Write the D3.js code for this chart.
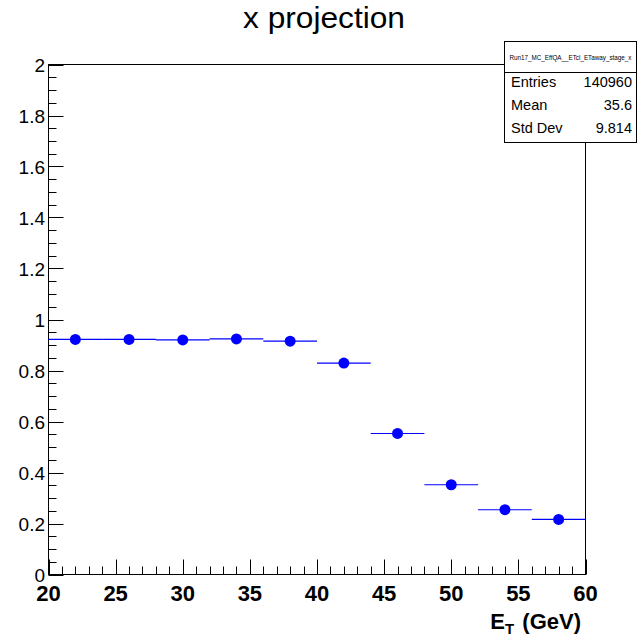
<!DOCTYPE html>
<html><head><meta charset="utf-8">
<script src="https://cdn.jsdelivr.net/npm/d3@7"></script>
<style>body{margin:0;background:#fff}svg{display:block}text{font-family:"Liberation Sans",Arial,Helvetica,sans-serif}</style>
</head><body>
<svg id="c" width="640" height="638"></svg>
<script>
const binCenters = [22, 26, 30, 34, 38, 42, 46, 50, 54, 58];
const binWidth = 4;
const efficiency = [0.922, 0.922, 0.920, 0.924, 0.915, 0.829, 0.553, 0.352, 0.254, 0.216];
const xTicks = [20, 25, 30, 35, 40, 45, 50, 55, 60];
const yTicks = [0, 0.2, 0.4, 0.6, 0.8, 1, 1.2, 1.4, 1.6, 1.8, 2];
const statsLabels = ["Entries", "Mean", "Std Dev"];
const statsValues = ["140960", "35.6", "9.814"];
const histName = "Run17_MC_EffQA__ETcl_ETaway_stage_x";
const title = "x projection";

const svg = d3.select("#c");
const L = 48.5, R = 585.5, T = 64.5, B = 574.5;
const x = d3.scaleLinear().domain([20, 60]).range([L, R]);
const y = d3.scaleLinear().domain([0, 2]).range([B, T]);

// frame
svg.append("rect").attr("x", L).attr("y", T).attr("width", R - L).attr("height", B - T)
  .attr("fill", "none").attr("stroke", "#000").attr("stroke-width", 1);

// x axis ticks
const xMinor = d3.range(20, 60.001, 1);
svg.append("g").selectAll("line").data(xMinor).join("line")
  .attr("x1", d => Math.round(x(d)) + 0.5).attr("x2", d => Math.round(x(d)) + 0.5)
  .attr("y1", B).attr("y2", d => B - (d % 5 === 0 ? 15 : 8))
  .attr("stroke", "#000");
svg.append("g").selectAll("text").data(xTicks).join("text")
  .attr("x", d => x(d)).attr("y", 601).attr("text-anchor", "middle")
  .attr("font-size", 22).attr("font-weight", "bold").text(d => d);

// y axis ticks
const yMinor = d3.range(0, 2.0001, 0.05);
svg.append("g").selectAll("line").data(yMinor).join("line")
  .attr("y1", d => Math.round(y(d)) + 0.5).attr("y2", d => Math.round(y(d)) + 0.5)
  .attr("x1", L).attr("x2", d => L + (Math.abs(d / 0.2 - Math.round(d / 0.2)) < 1e-6 ? 15 : 8))
  .attr("stroke", "#000");
svg.append("g").selectAll("text").data(yTicks).join("text")
  .attr("x", 45).attr("y", d => y(d) + 7).attr("text-anchor", "end")
  .attr("font-size", 19).text(d => d3.format("~g")(d));

// data: horizontal error bars and markers
const g = svg.append("g");
g.selectAll("line").data(binCenters).join("line")
  .attr("x1", d => x(d - binWidth / 2)).attr("x2", d => x(d + binWidth / 2))
  .attr("y1", (d, i) => y(efficiency[i])).attr("y2", (d, i) => y(efficiency[i]))
  .attr("stroke", "#0000ff").attr("stroke-width", 1.2);
g.selectAll("circle").data(binCenters).join("circle")
  .attr("cx", d => x(d)).attr("cy", (d, i) => y(efficiency[i])).attr("r", 5.5)
  .attr("fill", "#0000ff");

// title
svg.append("text").attr("x", 324).attr("y", 28).attr("text-anchor", "middle")
  .attr("font-size", 29).attr("textLength", 162).attr("lengthAdjust", "spacingAndGlyphs").text(title);

// axis title
const at = svg.append("text").attr("x", 581).attr("y", 629).attr("text-anchor", "end")
  .attr("font-size", 22).attr("font-weight", "bold");
at.append("tspan").text("E");
at.append("tspan").attr("font-size", 15).attr("dy", 5).text("T");
at.append("tspan").attr("dy", -5).attr("dx", 2).text(" (GeV)");

// stats box
const sx = 504.5, sw = 132, sy = 41.5, sh = 101;
svg.append("rect").attr("x", sx).attr("y", sy).attr("width", sw).attr("height", sh)
  .attr("fill", "#fff").attr("stroke", "#000");
svg.append("line").attr("x1", sx).attr("x2", sx + sw).attr("y1", 72.5).attr("y2", 72.5).attr("stroke", "#000");
svg.append("text").attr("x", sx + sw / 2).attr("y", 60).attr("text-anchor", "middle")
  .attr("font-size", 7).attr("textLength", 122).attr("lengthAdjust", "spacingAndGlyphs").text(histName);
const rowsY = [87, 110, 133];
svg.append("g").selectAll("text").data(statsLabels).join("text")
  .attr("x", 511).attr("y", (d, i) => rowsY[i]).attr("font-size", 14.5).text(d => d);
svg.append("g").selectAll("text").data(statsValues).join("text")
  .attr("x", 632).attr("y", (d, i) => rowsY[i]).attr("text-anchor", "end").attr("font-size", 14.5).text(d => d);
</script>
</body></html>
